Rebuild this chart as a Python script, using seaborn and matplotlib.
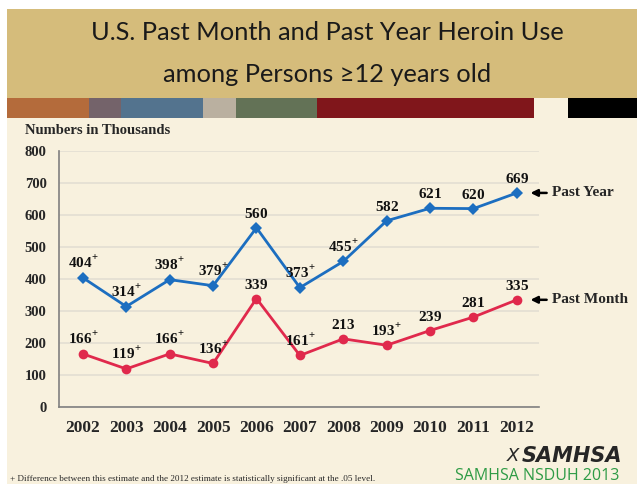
import pandas as pd
import numpy as np
import matplotlib.pyplot as plt
import seaborn as sns
from matplotlib.patches import Rectangle

years = [2002, 2003, 2004, 2005, 2006, 2007, 2008, 2009, 2010, 2011, 2012]
past_year = [404, 314, 398, 379, 560, 373, 455, 582, 621, 620, 669]
past_month = [166, 119, 166, 136, 339, 161, 213, 193, 239, 281, 335]
# "+" marks: difference vs 2012 significant at .05
year_sig = [True, True, True, True, False, True, True, False, False, False, False]
month_sig = [True, True, True, True, False, True, False, True, False, False, False]

df = pd.DataFrame({'year': years + years,
                   'value': past_year + past_month,
                   'series': ['Past Year'] * len(years) + ['Past Month'] * len(years)})

sns.set_style('white')
plt.rcParams['mathtext.fontset'] = 'custom'
plt.rcParams['mathtext.rm'] = 'Liberation Serif'
plt.rcParams['mathtext.bf'] = 'Liberation Serif:bold'

W, H = 637, 484
fig = plt.figure(figsize=(W / 100, H / 100), dpi=100)
fig.patch.set_facecolor('white')


def px_rect(x0, y0, x1, y1, color):
    fig.patches.append(Rectangle((x0 / W, 1 - y1 / H), (x1 - x0) / W, (y1 - y0) / H,
                                 transform=fig.transFigure, facecolor=color,
                                 edgecolor='none', zorder=-5))


# slide background and header
px_rect(7, 118, W, H, '#F8F1DE')
px_rect(7, 9, W, 98, '#D5BC7B')
strip = [(7, 89, '#B46B3B'), (89, 121, '#74636A'), (121, 203, '#53738E'),
         (203, 236, '#BAB0A0'), (236, 317, '#637256'), (317, 534, '#80161B'),
         (534, 568, '#F8F1DE'), (568, W, '#000000')]
for x0, x1, c in strip:
    px_rect(x0, 98, x1, 118, c)

fig.text(327 / W, 1 - 33 / H, 'U.S. Past Month and Past Year Heroin Use',
         ha='center', va='center', fontsize=18.3, family='Lato', color='#1a1a1a')
fig.text(327 / W, 1 - 75 / H, 'among Persons \u226512 years old',
         ha='center', va='center', fontsize=18.3, family='Lato', color='#1a1a1a')

ax = fig.add_axes([59 / W, 1 - 407 / H, (539 - 59) / W, (407 - 151) / H])
ax.set_zorder(2)
ax.set_facecolor('none')

blue = '#1C6EC0'
red = '#E0294C'
sns.lineplot(data=df[df.series == 'Past Year'], x='year', y='value', ax=ax,
             color=blue, lw=2.0, marker='D', markersize=6, markeredgewidth=0)
sns.lineplot(data=df[df.series == 'Past Month'], x='year', y='value', ax=ax,
             color=red, lw=2.0, marker='o', markersize=7, markeredgewidth=0)

ax.set_ylim(0, 800)
ax.set_xlim(2001.45, 2012.51)
ax.set_yticks(range(0, 801, 100))
ax.set_xticks(years)
ax.set_xlabel('')
ax.set_ylabel('')
ax.grid(axis='y', color='#E3DED2', lw=1.2)
ax.set_axisbelow(True)
for s in ['top', 'right']:
    ax.spines[s].set_visible(False)
for s in ['left', 'bottom']:
    ax.spines[s].set_color('#808080')
    ax.spines[s].set_linewidth(1.2)
ax.tick_params(axis='y', length=3, color='#808080', pad=6)
ax.tick_params(axis='x', length=3, color='#808080', pad=6)
for lab in ax.get_yticklabels():
    lab.set_fontfamily('Liberation Serif')
    lab.set_fontweight('bold')
    lab.set_fontsize(10.5)
for lab in ax.get_xticklabels():
    lab.set_fontfamily('Liberation Serif')
    lab.set_fontweight('bold')
    lab.set_fontsize(12.5)


def label(x, v, sig):
    s = r'$\mathbf{%d}^{\mathbf{+}}$' % v if sig else r'$\mathbf{%d}$' % v
    ax.annotate(s, (x, v), xytext=(0, 5), textcoords='offset points',
                ha='center', va='bottom', fontsize=11, color='#111111')


for x, v, s in zip(years, past_year, year_sig):
    label(x, v, s)
for x, v, s in zip(years, past_month, month_sig):
    label(x, v, s)

for v, name in [(past_year[-1], 'Past Year'), (past_month[-1], 'Past Month')]:
    ax.annotate('', xy=(2012.25, v), xytext=(2012.75, v), annotation_clip=False,
                arrowprops=dict(arrowstyle='-|>', color='black', lw=1.8,
                                mutation_scale=10))
    ax.text(2012.8, v, name, ha='left', va='center', fontsize=11,
            family='Liberation Serif', fontweight='bold', clip_on=False)

fig.text(25 / W, 1 - 131 / H, 'Numbers in Thousands', ha='left', va='center',
         fontsize=10.5, family='Liberation Serif', fontweight='bold')

fig.text(10 / W, 1 - 479 / H,
         '+ Difference between this estimate and the 2012 estimate is statistically significant at the .05 level.',
         ha='left', va='center', fontsize=6.6, family='Liberation Serif')
fig.text(622 / W, 1 - 456 / H, 'SAMHSA', ha='right', va='center', fontsize=15,
         family='DejaVu Sans', fontweight='bold', style='italic')
fig.text(519 / W, 1 - 456 / H, 'X', ha='right', va='center', fontsize=13,
         family='DejaVu Sans', style='italic')
fig.text(455 / W, 1 - 476 / H, 'SAMHSA NSDUH 2013', ha='left', va='center',
         fontsize=11.5, family='Open Sans', color='#2E9B45')

plt.savefig('out.png', dpi=100, facecolor=fig.get_facecolor())
